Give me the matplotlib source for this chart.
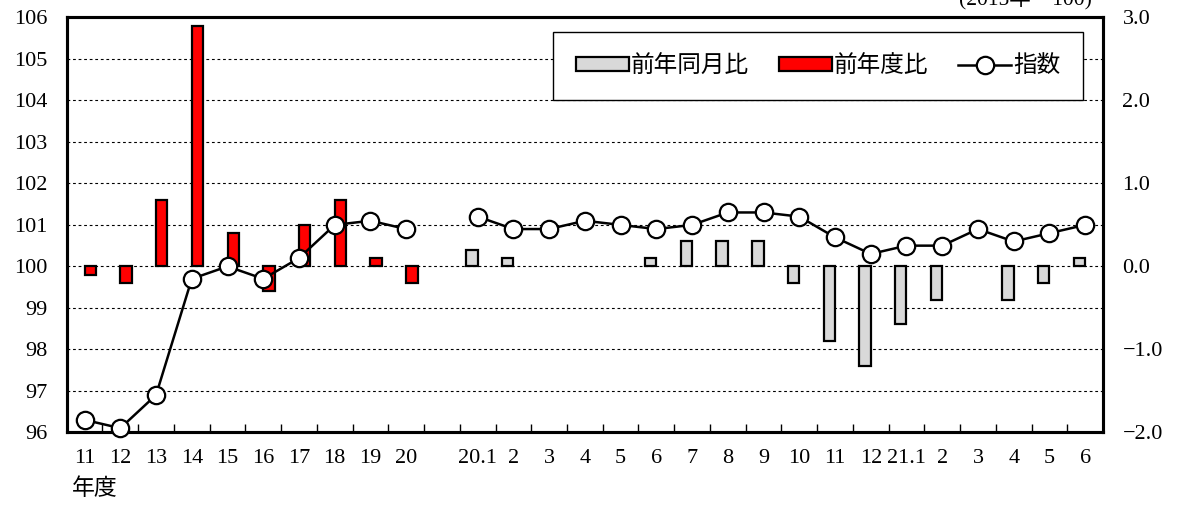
import numpy as np
import matplotlib
matplotlib.use("Agg")
import matplotlib.pyplot as plt
from matplotlib.ticker import MultipleLocator, FixedLocator, FixedFormatter
from matplotlib.patches import Patch
from matplotlib.lines import Line2D

# ---- data ----
annual_labels = ['11', '12', '13', '14', '15', '16', '17', '18', '19', '20']
month_labels = ['20.1', '2', '3', '4', '5', '6', '7', '8', '9', '10', '11', '12',
                '21.1', '2', '3', '4', '5', '6']
index_annual = [96.3, 96.1, 96.9, 99.7, 100.0, 99.7, 100.2, 101.0, 101.1, 100.9]
index_monthly = [101.2, 100.9, 100.9, 101.1, 101.0, 100.9, 101.0, 101.3, 101.3,
                 101.2, 100.7, 100.3, 100.5, 100.5, 100.9, 100.6, 100.8, 101.0]
fy_change = [-0.1, -0.2, 0.8, 2.9, 0.4, -0.3, 0.5, 0.8, 0.1, -0.2]          # 前年度比
yoy_change = [0.2, 0.1, 0.0, 0.0, 0.0, 0.1, 0.3, 0.3, 0.3, -0.2, -0.9, -1.2,
              -0.7, -0.4, 0.0, -0.4, -0.2, 0.1]                                # 前年同月比
left_ticks = [96, 97, 98, 99, 100, 101, 102, 103, 104, 105, 106]
right_ticks = [-2.0, -1.0, 0.0, 1.0, 2.0, 3.0]
right_labels = ['\u22122.0', '\u22121.0', '0.0', '1.0', '2.0', '3.0']

xlabels = annual_labels + [''] + month_labels
x_annual = np.arange(len(annual_labels))
x_month = np.arange(len(month_labels)) + len(annual_labels) + 1
n = len(xlabels)

NUM_FONT = 'Liberation Serif'
CJK_FONT = ['Noto Sans CJK JP', 'DejaVu Sans']
TICK_SIZE = 16

fig = plt.figure(figsize=(11.83, 5.07), dpi=100)
ax2 = fig.add_axes([0.0564, 0.1473, 0.876, 0.8182])  # base axes: bars, grid, x axis
ax = ax2.twinx()                                     # twin: index line (left scale)
ax.yaxis.tick_left()
ax.yaxis.set_label_position('left')
ax2.yaxis.tick_right()
ax2.yaxis.set_label_position('right')
ax.set_zorder(ax2.get_zorder() + 1)
ax.patch.set_visible(False)

bw = 0.32
# bars
xm = [x for x, v in zip(x_month, yoy_change) if v != 0]
vm = [v for v in yoy_change if v != 0]
ax2.bar(np.array(xm) - bw / 2, vm, width=bw, color='#d9d9d9', edgecolor='black',
        linewidth=1.6, zorder=3)
ax2.bar(x_annual + bw / 2, fy_change, width=bw, color='#ff0000', edgecolor='black',
        linewidth=1.6, zorder=3)

# line
lkw = dict(color='black', linewidth=1.8, marker='o', markersize=12.5,
           markerfacecolor='white', markeredgecolor='black', markeredgewidth=1.6,
           zorder=5, clip_on=False)
ax.plot(x_annual, index_annual, **lkw)
ax.plot(x_month, index_monthly, **lkw)

ax2.set_xlim(-0.5, n - 0.5)
ax.set_ylim(96, 106)
ax2.set_ylim(-2, 3)

# y ticks
ax.yaxis.set_major_locator(FixedLocator(left_ticks))
ax.tick_params(axis='y', length=0, pad=14, labelsize=TICK_SIZE,
               labelfontfamily=NUM_FONT)
ax2.yaxis.set_major_locator(FixedLocator(right_ticks))
ax2.yaxis.set_major_formatter(FixedFormatter(right_labels))
ax2.tick_params(axis='y', length=0, pad=14, labelsize=TICK_SIZE,
                labelfontfamily=NUM_FONT)
ax2.yaxis.set_minor_locator(MultipleLocator(0.5))
ax2.tick_params(axis='y', which='minor', length=0)
ax2.grid(axis='y', which='both', color='black', linestyle=(0, (2.5, 2.5)),
         linewidth=0.8, zorder=0)
ax2.set_axisbelow(True)

# x ticks (drawn by base axes)
ax2.set_xticks(np.arange(n))
ax2.set_xticklabels(xlabels)
ax2.set_xticks(np.arange(n + 1) - 0.5, minor=True)
ax2.tick_params(axis='x', which='major', length=0, pad=12, labelsize=TICK_SIZE,
                labelfontfamily=NUM_FONT)
ax2.tick_params(axis='x', which='minor', direction='in', length=6, width=1.0,
                color='black')

for a in (ax, ax2):
    for s in a.spines.values():
        s.set_linewidth(2.2)
        s.set_color('black')

# annotation texts
ax2.text(-0.35, -0.108, '年度', transform=ax2.get_xaxis_transform(), ha='left',
         va='top', fontsize=16.5, family=CJK_FONT)
fig.text(0.923, 0.982, '(2015年＝100)', ha='right', va='bottom', fontsize=15.5,
         family=['Liberation Serif', 'Noto Sans CJK JP'])

# legend
handles = [Patch(facecolor='#d9d9d9', edgecolor='black', linewidth=1.6),
           Patch(facecolor='#ff0000', edgecolor='black', linewidth=1.6),
           Line2D([], [], color='black', linewidth=1.8, marker='o', markersize=12.5,
                  markerfacecolor='white', markeredgecolor='black', markeredgewidth=1.6)]
leg = ax.legend(handles, ['前年同月比', '前年度比', '指数'], ncol=3,
                loc='upper right', bbox_to_anchor=(0.981, 0.965),
                prop={'family': CJK_FONT, 'size': 17}, frameon=True, fancybox=False,
                framealpha=1, edgecolor='black', borderpad=0.95, handlelength=2.25,
                handleheight=0.5, handletextpad=0.1, columnspacing=1.25,
                borderaxespad=0)
leg.get_frame().set_linewidth(1.0)
leg.set_zorder(10)

fig.savefig('out.png', dpi=100)
